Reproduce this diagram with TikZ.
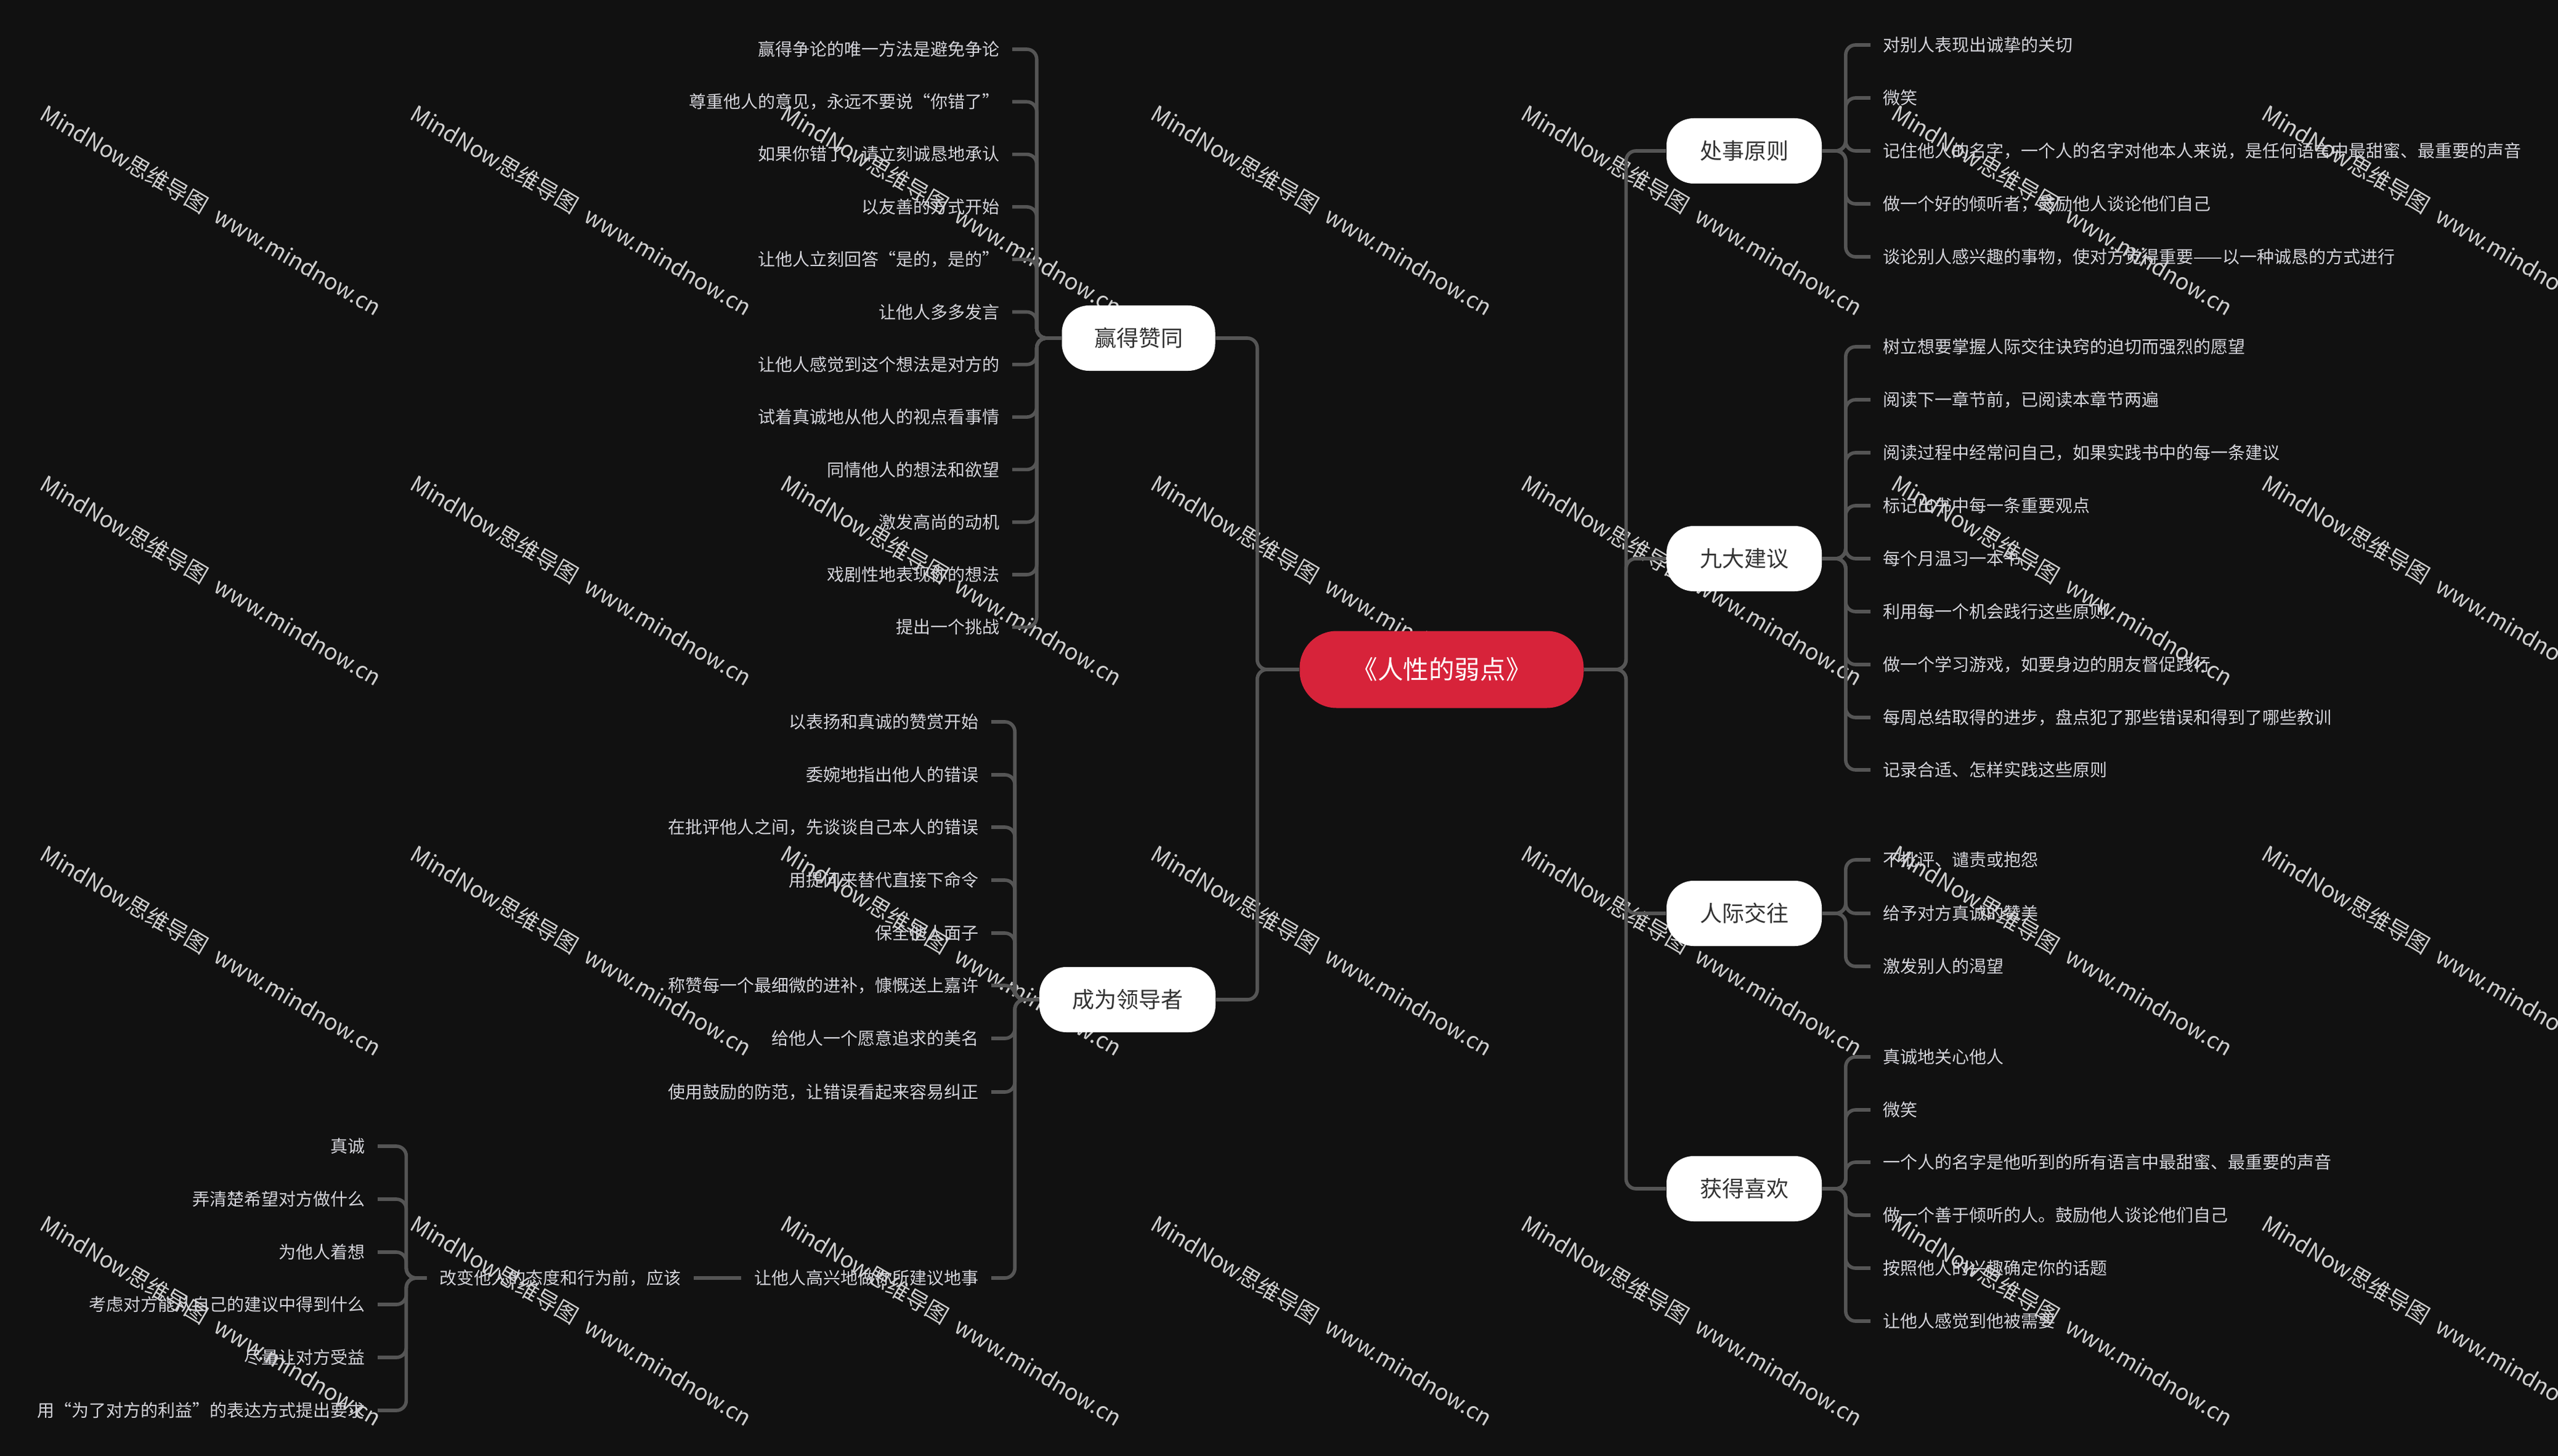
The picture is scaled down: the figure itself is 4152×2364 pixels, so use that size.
\documentclass[tikz,border=0pt]{standalone}
\usepackage{fontspec}
\setmainfont{Noto Sans CJK SC}
\definecolor{bgC}{HTML}{111111}
\definecolor{lineC}{HTML}{555555}
\definecolor{leafC}{HTML}{D4D4DA}
\definecolor{topicC}{HTML}{333333}
\definecolor{rootC}{HTML}{D7233A}
\definecolor{wmC}{HTML}{CFCFCF}
\newcommand{\leaffont}{\fontsize{7pt}{8pt}\selectfont}
\newcommand{\topicfont}{\fontsize{9pt}{10pt}\selectfont}
\newcommand{\rootfont}{\fontsize{10.4pt}{12pt}\selectfont}
\newcommand{\wmfont}{\fontsize{9.1pt}{11pt}\selectfont}
\tikzset{
  conn/.style={draw=lineC, line width=1.4pt, rounded corners=4pt},
  leafL/.style={anchor=east, text=leafC, font=\leaffont, inner xsep=5pt, inner ysep=1pt},
  leafR/.style={anchor=west, text=leafC, font=\leaffont, inner xsep=5pt, inner ysep=1pt},
  topic/.style={fill=white, text=topicC, font=\topicfont, rounded corners=11pt,
    minimum height=26.5pt, inner sep=0pt},
  rootnode/.style={fill=rootC, text=white, font=\rootfont, rounded corners=15pt,
    minimum height=31.25pt, minimum width=115.25pt, inner sep=0pt},
  wm/.style={anchor=base west, rotate=-30.5, text=wmC, font=\wmfont, inner sep=0pt}
}
\begin{document}
\begin{tikzpicture}[x=0.25pt,y=-0.25pt]
\useasboundingbox (0,0) rectangle (4152,2364);
\fill[bgC] (0,0) rectangle (4152,2364);
\clip (0,0) rectangle (4152,2364);
% watermarks
\foreach \i in {0,...,6}{
  \foreach \j in {0,...,3}{
    \node[wm] (wm-\i-\j) at ({62+601*\i},{192+601*\j}) {MindNow思维导图\hspace{0.55em}www.mindnow.cn};
  }
}
% root and topics
\node[rootnode] (root) at (2340,1087) {《人性的弱点》};
\node[topic, minimum width=62.25pt] (win) at (1848,549) {赢得赞同};
\node[topic, minimum width=71.5pt] (lead) at (1830,1623) {成为领导者};
\node[topic, minimum width=63pt] (chu) at (2831,245) {处事原则};
\node[topic, minimum width=63pt] (jiu) at (2831,907) {九大建议};
\node[topic, minimum width=63pt] (ren) at (2831,1483) {人际交往};
\node[topic, minimum width=63pt] (huo) at (2831,1930) {获得喜欢};
% trunks
\draw[conn] (root.west) -- ++(-68,0) |- (win.east);
\draw[conn] (root.west) -- ++(-68,0) |- (lead.east);
\foreach \t in {chu,jiu,ren,huo}{
  \draw[conn] (root.east) -- ++(68,0) |- (\t.west);
}
% win leaves
\foreach \k/\y/\txt in {
  1/80/赢得争论的唯一方法是避免争论,
  2/165.3/尊重他人的意见，永远不要说“你错了”,
  3/250.6/如果你错了，请立刻诚恳地承认,
  4/335.9/以友善的方式开始,
  5/421.2/让他人立刻回答“是的，是的”,
  6/506.5/让他人多多发言,
  7/591.8/让他人感觉到这个想法是对方的,
  8/677.1/试着真诚地从他人的视点看事情,
  9/762.4/同情他人的想法和欲望,
  10/847.7/激发高尚的动机,
  11/933/戏剧性地表现你的想法,
  12/1018.3/提出一个挑战}{
  \node[leafL] (w\k) at (1643,\y) {\txt};
  \draw[conn] (win.west) -- ++(-40,0) |- (w\k.east);
}
% lead leaves
\foreach \k/\y/\txt in {
  1/1172/以表扬和真诚的赞赏开始,
  2/1258/委婉地指出他人的错误,
  3/1343/在批评他人之间，先谈谈自己本人的错误,
  4/1429/用提问来替代直接下命令,
  5/1515/保全他人面子,
  6/1600/称赞每一个最细微的进补，慷慨送上嘉许,
  7/1686/给他人一个愿意追求的美名,
  8/1773/使用鼓励的防范，让错误看起来容易纠正,
  9/2075/让他人高兴地做你所建议地事}{
  \node[leafL] (l\k) at (1609,\y) {\txt};
  \draw[conn] (lead.west) -- ++(-39,0) |- (l\k.east);
}
\node[leafL] (sub) at (1126,2075) {改变他人的态度和行为前，应该};
\draw[conn] (l9.west) -- (sub.east);
\foreach \k/\y/\txt in {
  1/1861/真诚,
  2/1947/弄清楚希望对方做什么,
  3/2033/为他人着想,
  4/2118/考虑对方能从自己的建议中得到什么,
  5/2204/尽量让对方受益,
  6/2290/用“为了对方的利益”的表达方式提出要求}{
  \node[leafL] (s\k) at (613,\y) {\txt};
  \draw[conn] (sub.west) -- ++(-33,0) |- (s\k.east);
}
% chu leaves
\foreach \k/\y/\txt in {
  1/73/对别人表现出诚挚的关切,
  2/159/微笑,
  3/245/记住他人的名字，一个人的名字对他本人来说，是任何语言中最甜蜜、最重要的声音,
  4/331/做一个好的倾听者，鼓励他人谈论他们自己,
  5/417/谈论别人感兴趣的事物，使对方觉得重要——以一种诚恳的方式进行}{
  \node[leafR] (c\k) at (3036,\y) {\txt};
  \draw[conn] (chu.east) -- ++(38,0) |- (c\k.west);
}
% jiu leaves
\foreach \k/\y/\txt in {
  1/563/树立想要掌握人际交往诀窍的迫切而强烈的愿望,
  2/649/阅读下一章节前，已阅读本章节两遍,
  3/735/阅读过程中经常问自己，如果实践书中的每一条建议,
  4/821/标记出书中每一条重要观点,
  5/907/每个月温习一本书,
  6/993/利用每一个机会践行这些原则,
  7/1079/做一个学习游戏，如要身边的朋友督促践行,
  8/1165/每周总结取得的进步，盘点犯了那些错误和得到了哪些教训,
  9/1250/记录合适、怎样实践这些原则}{
  \node[leafR] (j\k) at (3036,\y) {\txt};
  \draw[conn] (jiu.east) -- ++(38,0) |- (j\k.west);
}
% ren leaves
\foreach \k/\y/\txt in {
  1/1396/不批评、谴责或抱怨,
  2/1483/给予对方真诚的赞美,
  3/1569/激发别人的渴望}{
  \node[leafR] (r\k) at (3036,\y) {\txt};
  \draw[conn] (ren.east) -- ++(38,0) |- (r\k.west);
}
% huo leaves
\foreach \k/\y/\txt in {
  1/1716/真诚地关心他人,
  2/1802/微笑,
  3/1887/一个人的名字是他听到的所有语言中最甜蜜、最重要的声音,
  4/1973/做一个善于倾听的人。鼓励他人谈论他们自己,
  5/2059/按照他人的兴趣确定你的话题,
  6/2145/让他人感觉到他被需要}{
  \node[leafR] (h\k) at (3036,\y) {\txt};
  \draw[conn] (huo.east) -- ++(38,0) |- (h\k.west);
}
\end{tikzpicture}
\end{document}
